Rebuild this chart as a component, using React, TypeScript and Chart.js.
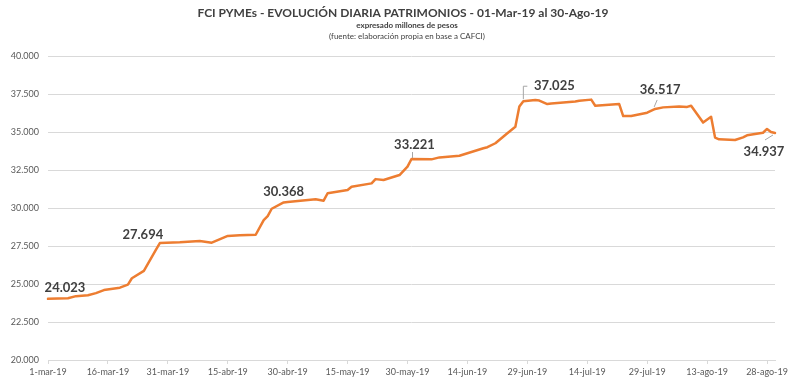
import React, { useEffect, useRef } from 'react';
import { Chart, registerables } from 'chart.js';

Chart.register(...registerables);

// ---------- DATA ----------
const startDate = '2019-03-01';
const endDate = '2019-08-30';

const dates = [
  '2019-03-01', '2019-03-06', '2019-03-08', '2019-03-11', '2019-03-13', '2019-03-15', '2019-03-19', '2019-03-21',
  '2019-03-22', '2019-03-25', '2019-03-28', '2019-03-29', '2019-04-03', '2019-04-08', '2019-04-11', '2019-04-15',
  '2019-04-18', '2019-04-22', '2019-04-24', '2019-04-25', '2019-04-26', '2019-04-29', '2019-04-30', '2019-05-07',
  '2019-05-09', '2019-05-10', '2019-05-15', '2019-05-16', '2019-05-21', '2019-05-22', '2019-05-24', '2019-05-28',
  '2019-05-30', '2019-05-31', '2019-06-05', '2019-06-07', '2019-06-12', '2019-06-14', '2019-06-18', '2019-06-19',
  '2019-06-21', '2019-06-24', '2019-06-26', '2019-06-27', '2019-06-28', '2019-07-01', '2019-07-02', '2019-07-04',
  '2019-07-05', '2019-07-11', '2019-07-12', '2019-07-15', '2019-07-16', '2019-07-22', '2019-07-23', '2019-07-25',
  '2019-07-29', '2019-07-31', '2019-08-02', '2019-08-06', '2019-08-08', '2019-08-09', '2019-08-12', '2019-08-14',
  '2019-08-15', '2019-08-16', '2019-08-20', '2019-08-22', '2019-08-23', '2019-08-27', '2019-08-28', '2019-08-29',
  '2019-08-30',
];

const values = [
  24023, 24060, 24200, 24260, 24400, 24600, 24760, 24960,
  25380, 25860, 27240, 27694, 27740, 27830, 27720, 28160,
  28200, 28240, 29200, 29470, 29950, 30368, 30400, 30570,
  30480, 30970, 31180, 31400, 31620, 31900, 31840, 32170,
  32720, 33221, 33200, 33330, 33440, 33600, 33930, 34000,
  34260, 34920, 35350, 36670, 37025, 37100, 37070, 36840,
  36880, 37000, 37050, 37130, 36730, 36840, 36050, 36050,
  36270, 36517, 36620, 36670, 36650, 36730, 35620, 36000,
  34630, 34520, 34470, 34650, 34780, 34950, 35200, 35000,
  34937,
];

const labeledDates = ['2019-03-01', '2019-03-29', '2019-04-29', '2019-05-31', '2019-06-28', '2019-07-31', '2019-08-30'];

const tickDates = [
  '2019-03-01', '2019-03-16', '2019-03-31', '2019-04-15', '2019-04-30', '2019-05-15', '2019-05-30',
  '2019-06-14', '2019-06-29', '2019-07-14', '2019-07-29', '2019-08-13', '2019-08-28',
];
const tickLabels = [
  '1-mar-19', '16-mar-19', '31-mar-19', '15-abr-19', '30-abr-19', '15-may-19', '30-may-19',
  '14-jun-19', '29-jun-19', '14-jul-19', '29-jul-19', '13-ago-19', '28-ago-19',
];

const yMin = 20000;
const yMax = 40000;
const yStep = 2500;

const titleText = 'FCI PYMEs - EVOLUCIÓN DIARIA PATRIMONIOS - 01-Mar-19 al 30-Ago-19';
const subtitleText = 'expresado millones de pesos';
const sourceText = '(fuente: elaboración propia en base a CAFCI)';

// ---------- helpers ----------
const dayOf = (s: string) => {
  const [y, m, d] = s.split('-').map(Number);
  const [y0, m0, d0] = startDate.split('-').map(Number);
  return (Date.UTC(y, m - 1, d) - Date.UTC(y0, m0 - 1, d0)) / 86400000;
};

const fmt = (v: number) => Math.round(v).toString().replace(/\B(?=(\d{3})+(?!\d))/g, '.');

// label placement (offsets from point, in px) and leader lines
const labelPlacement = [
  { dx: 17, dy: -11, leader: [] as number[][] },
  { dx: -17, dy: -8, leader: [] as number[][] },
  { dx: 0, dy: -11, leader: [] as number[][] },
  { dx: 3, dy: -14, leader: [[1, -7], [1, -1]] },
  { dx: 31, dy: -15, leader: [[0, -2], [0, -15], [4, -15]] },
  { dx: 5, dy: -19, leader: [[2, -9], [-1, -2]] },
  { dx: -11, dy: 19, leader: [[-2, 2], [-10, 7]] },
];

const FONT = 'Lato, "Open Sans", "DejaVu Sans", sans-serif';

const overlayPlugin = {
  id: 'overlay',
  afterDatasetsDraw(chart: any) {
    const ctx = chart.ctx;
    const meta = chart.getDatasetMeta(0);
    const xs = chart.scales.x;
    const ys = chart.scales.y;
    ctx.save();
    labeledDates.forEach((d, i) => {
      const idx = dates.indexOf(d);
      if (idx < 0) return;
      const px = xs.getPixelForValue(dayOf(d));
      const py = ys.getPixelForValue(values[idx]);
      const pl = labelPlacement[i];
      if (pl.leader.length) {
        ctx.strokeStyle = '#a6a6a6';
        ctx.lineWidth = 1;
        ctx.beginPath();
        pl.leader.forEach((p, k) => {
          if (k === 0) ctx.moveTo(px + p[0], py + p[1]);
          else ctx.lineTo(px + p[0], py + p[1]);
        });
        ctx.stroke();
      }
      ctx.fillStyle = '#404040';
      ctx.font = `bold 13px ${FONT}`;
      ctx.textAlign = 'center';
      ctx.textBaseline = 'middle';
      ctx.fillText(fmt(values[idx]), px + pl.dx, py + pl.dy);
    });
    ctx.restore();
    void meta;
  },
  afterDraw(chart: any) {
    const ctx = chart.ctx;
    ctx.save();
    ctx.fillStyle = '#404040';
    ctx.textAlign = 'center';
    ctx.textBaseline = 'middle';
    ctx.font = `bold 12px ${FONT}`;
    ctx.fillText(titleText, 403, 13);
    ctx.font = `bold 8px ${FONT}`;
    ctx.fillText(subtitleText, 407, 25);
    ctx.font = `8px ${FONT}`;
    ctx.fillText(sourceText, 407, 36);
    ctx.restore();
  },
};

export default function App() {
  const canvasRef = useRef<HTMLCanvasElement | null>(null);

  useEffect(() => {
    if (!canvasRef.current) return;
    const points = dates.map((d, i) => ({ x: dayOf(d), y: values[i] }));
    const tickDays = tickDates.map(dayOf);

    const chart = new Chart(canvasRef.current, {
      type: 'line',
      data: {
        datasets: [
          {
            data: points,
            borderColor: '#ED7D31',
            borderWidth: 2.5,
            pointRadius: 0,
            tension: 0,
            borderJoinStyle: 'round',
            borderCapStyle: 'round',
            clip: false,
          } as any,
        ],
      },
      options: {
        responsive: false,
        animation: false,
        events: [],
        layout: { padding: { top: 56, right: 25, bottom: 0, left: 0 } },
        plugins: {
          legend: { display: false },
          title: { display: false },
          tooltip: { enabled: false },
        },
        scales: {
          x: {
            type: 'linear',
            min: 0,
            max: dayOf(endDate),
            afterBuildTicks: (scale: any) => {
              scale.ticks = tickDays.map((v) => ({ value: v }));
            },
            afterFit: (scale: any) => {
              scale.height = 32;
            },
            grid: {
              drawOnChartArea: false,
              drawTicks: true,
              tickLength: 4,
              color: '#d9d9d9',
            },
            border: { display: true, color: '#d9d9d9' },
            ticks: {
              autoSkip: false,
              maxRotation: 0,
              padding: 3,
              color: '#595959',
              font: { family: FONT, size: 9 },
              callback: (v: any) => {
                const i = tickDays.indexOf(Number(v));
                return i >= 0 ? tickLabels[i] : '';
              },
            },
          },
          y: {
            type: 'linear',
            min: yMin,
            max: yMax,
            afterFit: (scale: any) => {
              scale.width = 48;
            },
            grid: { color: '#d9d9d9', drawTicks: false },
            border: { display: false },
            ticks: {
              stepSize: yStep,
              padding: 9,
              color: '#595959',
              font: { family: FONT, size: 9 },
              callback: (v: any) => fmt(Number(v)),
            },
          },
        },
      },
      plugins: [overlayPlugin],
    });
    return () => chart.destroy();
  }, []);

  return (
    <div style={{ position: 'fixed', left: 0, top: 0, width: 800, height: 392, background: '#ffffff' }}>
      <canvas ref={canvasRef} width={800} height={392} />
    </div>
  );
}
